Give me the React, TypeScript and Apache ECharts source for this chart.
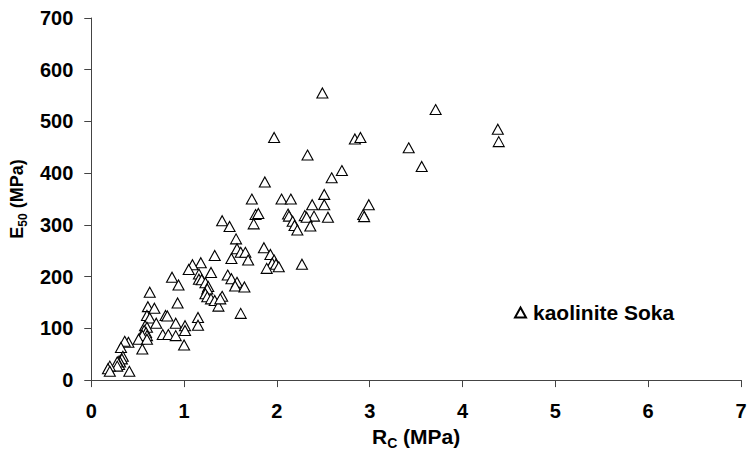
import React, { useEffect, useRef } from "react";
import * as echarts from "echarts";

const seriesName = "kaolinite Soka";
const xTicks = [0, 1, 2, 3, 4, 5, 6, 7];
const yTicks = [0, 100, 200, 300, 400, 500, 600, 700];

const rcValues = [
  3.71, 4.38, 4.39, 3.42, 3.56,
  2.49, 1.97, 2.84, 2.9, 2.33, 2.7, 2.59, 1.87, 1.73, 2.05, 2.15, 2.51, 2.38, 2.51, 2.99,
  1.77, 1.8, 1.75, 2.12, 2.13, 2.17, 2.19, 2.22, 2.3, 2.4, 2.32, 2.36, 2.55, 2.93, 2.94, 2.27,
  1.41, 1.49, 1.86, 1.93, 1.97, 1.95, 1.99, 2.02, 1.89,
  1.56, 1.57, 1.61, 1.66, 1.51, 1.69, 1.33, 1.18, 1.09, 1.05, 0.87, 0.94, 0.63, 1.16, 1.29,
  1.16, 1.19, 1.23, 1.26, 1.25, 1.23, 1.25, 1.29, 1.33, 1.37, 1.47, 1.51, 1.57, 1.55, 1.65,
  1.41, 1.39, 0.93, 1.61, 0.61, 0.68, 0.6, 0.63, 0.7, 0.8, 0.82, 0.91, 0.58, 0.6, 0.57,
  0.59, 0.6, 0.55, 0.51, 0.6, 0.77, 0.83, 0.91, 1.01, 1.01, 1.15, 1.15, 1.0, 0.55, 0.4,
  0.36, 0.32, 0.34, 0.33, 0.3, 0.31, 0.3, 0.28, 0.28, 0.2, 0.18, 0.2, 0.41,
];

const e50Values = [
  523, 485, 461, 449, 413,
  555, 469, 466, 469, 435, 405, 391, 383, 350, 350, 350, 359, 339, 339, 339,
  320, 322, 302, 321, 317, 307, 299, 290, 318, 317, 315, 298, 315, 320, 316, 224,
  308, 297, 256, 243, 232, 226, 224, 219, 216,
  273, 254, 247, 247, 235, 232, 241, 227, 223, 214, 199, 184, 170, 205, 208,
  195, 194, 188, 181, 176, 167, 161, 157, 154, 143, 203, 196, 189, 182, 180,
  162, 157, 149, 129, 142, 139, 125, 120, 110, 125, 124, 110, 105, 102, 96,
  92, 86, 86, 79, 79, 88, 88, 86, 105, 96, 121, 106, 68, 60, 73,
  75, 63, 46, 41, 37, 35, 30, 35, 27, 27, 22, 17, 17,
];

const FONT = "'Liberation Sans', Arial, sans-serif";

export default function App() {
  const ref = useRef<HTMLDivElement>(null);

  useEffect(() => {
    if (!ref.current) return;
    const chart = echarts.init(ref.current, null, { renderer: "svg" });
    const data = rcValues.map((x, i) => [x, e50Values[i]]);
    const axisCommon = {
      axisLine: { show: true, lineStyle: { color: "#444", width: 1 } },
      axisTick: { show: true, inside: false, length: 7, lineStyle: { color: "#444" } },
      splitLine: { show: false },
    };
    chart.setOption({
      animation: false,
      backgroundColor: "#fff",
      grid: { left: 89, top: 18, width: 652, height: 367, containLabel: false },
      legend: {
        data: [seriesName],
        left: 509,
        top: 297,
        itemWidth: 11,
        itemHeight: 10,
        textStyle: {
          fontFamily: FONT,
          fontWeight: "bold",
          fontSize: 21,
          color: "#000",
          padding: [0, 0, 0, 2],
        },
      },
      xAxis: {
        type: "value",
        min: xTicks[0],
        max: xTicks[xTicks.length - 1],
        interval: 1,
        ...axisCommon,
        axisLabel: {
          fontFamily: FONT,
          fontWeight: "bold",
          fontSize: 20,
          color: "#000",
          margin: 21,
        },
        name: "{a|R}{b|C}{a| (MPa)}",
        nameLocation: "middle",
        nameGap: 44,
        nameTextStyle: {
          rich: {
            a: { fontFamily: FONT, fontWeight: "bold", fontSize: 21, color: "#000", lineHeight: 21, verticalAlign: "top" },
            b: { fontFamily: FONT, fontWeight: "bold", fontSize: 14, color: "#000", lineHeight: 14, padding: [10, 0, 0, 0], verticalAlign: "top" },
          },
        },
      },
      yAxis: {
        type: "value",
        min: yTicks[0],
        max: yTicks[yTicks.length - 1],
        interval: 100,
        ...axisCommon,
        axisLabel: {
          fontFamily: FONT,
          fontWeight: "bold",
          fontSize: 20,
          color: "#000",
          margin: 18,
        },
        name: "{a|E}{b|50}{a| (MPa)}",
        nameLocation: "middle",
        nameGap: 53,
        nameTextStyle: {
          rich: {
            a: { fontFamily: FONT, fontWeight: "bold", fontSize: 18, color: "#000", lineHeight: 18, verticalAlign: "top" },
            b: { fontFamily: FONT, fontWeight: "bold", fontSize: 12, color: "#000", lineHeight: 12, padding: [9, 0, 0, 0], verticalAlign: "top" },
          },
        },
      },
      series: [
        {
          name: seriesName,
          type: "scatter",
          symbol: "triangle",
          symbolSize: [11, 10],
          itemStyle: { color: "#fff", borderColor: "#000", borderWidth: 1.1, opacity: 1 },
          data,
        },
      ],
    });
    return () => chart.dispose();
  }, []);

  return (
    <div
      ref={ref}
      style={{ position: "absolute", left: 0, top: 0, width: 750, height: 455 }}
    />
  );
}
